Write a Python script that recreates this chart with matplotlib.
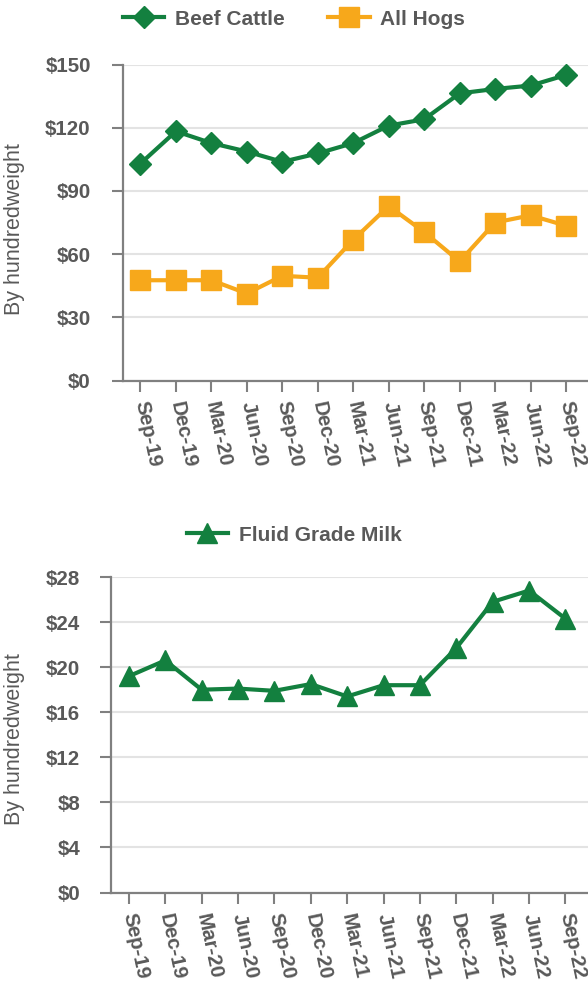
import matplotlib.pyplot as plt

# Data
quarters = ['Sep-19', 'Dec-19', 'Mar-20', 'Jun-20', 'Sep-20', 'Dec-20', 'Mar-21',
            'Jun-21', 'Sep-21', 'Dec-21', 'Mar-22', 'Jun-22', 'Sep-22']
beef_cattle = [103, 118.3, 112.7, 108.7, 103.8, 107.8, 112.7, 121, 124, 136.3, 138.4, 140, 145]
all_hogs = [47.6, 47.6, 47.6, 41.3, 49.7, 48.8, 66.8, 82.8, 70.5, 56.5, 75, 78.4, 73.5]
fluid_milk = [19.2, 20.6, 18.0, 18.1, 17.9, 18.5, 17.4, 18.4, 18.4, 21.7, 25.8, 26.8, 24.3]

top_ticks = [0, 30, 60, 90, 120, 150]
bottom_ticks = [0, 4, 8, 12, 16, 20, 24, 28]

GREEN = '#13803F'
ORANGE = '#F7A81B'
TEXT = '#595959'
AXIS = '#808080'
GRID = '#E3E3E3'

plt.rcParams['font.family'] = ['Liberation Sans', 'DejaVu Sans']

fig = plt.figure(figsize=(5.88, 9.82), dpi=100)
ax1 = fig.add_axes([0.2087, 0.6125, 0.7913, 0.3218])
ax2 = fig.add_axes([0.1883, 0.0911, 0.8117, 0.3213])

x = list(range(len(quarters)))


def style_axis(ax, ticks, ypad):
    ax.set_yticks(ticks)
    ax.set_yticklabels([f'${t}' for t in ticks], fontsize=14.8, fontweight='bold', color=TEXT)
    ax.set_ylim(ticks[0], ticks[-1])
    ax.set_xticks(x)
    ax.set_xticklabels(quarters, fontsize=14.8, fontweight='bold', color=TEXT,
                       rotation=-78, ha='left', va='center', rotation_mode='anchor')
    ax.set_xlim(-0.5, 12.62)
    ax.grid(axis='y', color=GRID, linewidth=1.5)
    ax.set_axisbelow(True)
    for s in ['top', 'right']:
        ax.spines[s].set_visible(False)
    for s in ['left', 'bottom']:
        ax.spines[s].set_color(AXIS)
        ax.spines[s].set_linewidth(1.6)
        ax.spines[s].set_zorder(1)
    ax.tick_params(axis='y', length=8, width=1.5, color=AXIS, pad=ypad)
    ax.tick_params(axis='x', length=8, width=1.5, color=AXIS, pad=7)
    ax.set_ylabel('By hundredweight', fontsize=15.5, color=TEXT)


# Top chart
l1, = ax1.plot(x, beef_cattle, color=GREEN, lw=3, marker='D', ms=11, label='Beef Cattle',
               clip_on=False, zorder=3)
l2, = ax1.plot(x, all_hogs, color=ORANGE, lw=3, marker='s', ms=14.5, label='All Hogs',
               clip_on=False, zorder=3)
style_axis(ax1, top_ticks, 15)
ax1.yaxis.set_label_coords(-0.21, 0.479)

fig.legend(handles=[l1, l2], loc='center', bbox_to_anchor=(0.5, 0.9805), ncol=2,
           frameon=False, handlelength=2.0, handletextpad=0.5, columnspacing=2.1,
           prop={'size': 15, 'weight': 'bold'}, labelcolor=TEXT)

# Bottom chart
l3, = ax2.plot(x, fluid_milk, color=GREEN, lw=3, marker='^', ms=15, label='Fluid Grade Milk',
               clip_on=False, zorder=3)
style_axis(ax2, bottom_ticks, 14)
ax2.yaxis.set_label_coords(-0.18, 0.487)

fig.legend(handles=[l3], loc='center', bbox_to_anchor=(0.5, 0.455), frameon=False,
           handlelength=2.0, handletextpad=0.5,
           prop={'size': 15, 'weight': 'bold'}, labelcolor=TEXT)

fig.savefig('out.png', dpi=100)
